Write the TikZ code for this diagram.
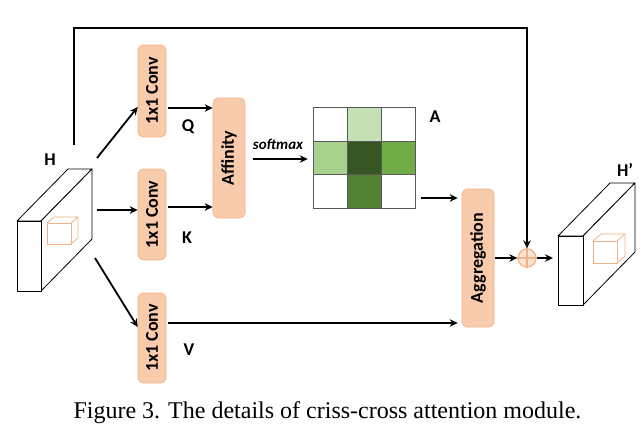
\documentclass[tikz,border=0pt]{standalone}
\usepackage{fontspec}
\setmainfont{Liberation Serif}
\setsansfont{Carlito}
\usetikzlibrary{arrows.meta}
\definecolor{peach}{HTML}{F8CBAD}
\definecolor{peachd}{HTML}{F4B183}
\definecolor{gA}{HTML}{C5E0B4}
\definecolor{gB}{HTML}{A9D18E}
\definecolor{gC}{HTML}{375623}
\definecolor{gD}{HTML}{70AD47}
\definecolor{gE}{HTML}{548235}
\begin{document}
\begin{tikzpicture}[x=1pt,y=-1pt,
  box/.style={draw=peachd, fill=peach, rounded corners=5pt, line width=0.6pt, inner sep=0pt},
  lbl/.style={font=\sffamily\bfseries\fontsize{18}{18}\selectfont, inner sep=0pt},
  arr/.style={line width=1.8pt, -{Stealth[length=8pt,width=7.5pt]}},
  face/.style={draw=black, fill=white, line width=0.8pt, line join=round},
  cube/.style={draw=peachd, line width=0.8pt, line join=round},
  cell/.style={draw=black!65, line width=0.8pt}]
\useasboundingbox (0,0) rectangle (644,437);

% ---- left block H
\draw[face] (17,221) -- (68,169) -- (92,169) -- (41,221) -- cycle;
\draw[face] (41,221) -- (92,169) -- (92,239) -- (41,291) -- cycle;
\draw[face] (17,221) rectangle (41,291);
\draw[cube] (47,223) rectangle (71,244);
\draw[cube] (47,223) -- (54,217) -- (78,217) -- (71,223);
\draw[cube] (71,244) -- (78,238) -- (78,217);
\node[lbl] (hl) at (50,160) {H};

% ---- right block H'
\draw[face] (558,236) -- (610,183) -- (635,183) -- (583,236) -- cycle;
\draw[face] (583,236) -- (635,183) -- (635,252) -- (583,305) -- cycle;
\draw[face] (558,236) rectangle (583,305);
\draw[cube] (593,241) rectangle (617,263);
\draw[cube] (593,241) -- (601,234) -- (625,234) -- (617,241);
\draw[cube] (617,263) -- (625,256) -- (625,234);
\node[lbl] (hr) at (625,170) {H’};
\coordinate (hrin) at (553,258);

% ---- conv boxes
\node[box, minimum width=28pt, minimum height=92pt] (q) at (152,91) {};
\node[lbl, rotate=90] at (q) {1x1 Conv};
\node[box, minimum width=28pt, minimum height=91pt] (k) at (152,214.5) {};
\node[lbl, rotate=90] at (k) {1x1 Conv};
\node[box, minimum width=28pt, minimum height=90pt] (v) at (152,338) {};
\node[lbl, rotate=90] at (v) {1x1 Conv};

\node[box, minimum width=32pt, minimum height=120pt] (aff) at (229,158) {};
\node[lbl, rotate=90] at (aff) {Affinity};
\node[box, minimum width=32pt, minimum height=138pt] (agg) at (478,258) {};
\node[lbl, rotate=90] at (agg) {Aggregation};

% ---- labels
\node[lbl] (lq) at (188,127) {Q};
\node[lbl] (lk) at (187,238) {K};
\node[lbl] (lv) at (189,350) {V};
\node[lbl] (la) at (435,117) {A};
\node[font=\sffamily\bfseries\itshape\fontsize{15}{15}\selectfont, inner sep=0pt] (sm) at (278,144) {softmax};

% ---- matrix
\fill[gA] (347,107) rectangle (381,141);
\fill[gB] (313,141) rectangle (347,174);
\fill[gC] (347,141) rectangle (381,174);
\fill[gD] (381,141) rectangle (415,174);
\fill[gE] (347,174) rectangle (381,208);
\draw[cell] (313,107) rectangle (415,208);
\draw[cell] (347,107) -- (347,208) (381,107) -- (381,208);
\draw[cell] (313,141) -- (415,141) (313,174) -- (415,174);
\node[minimum width=102pt, minimum height=101pt, inner sep=0pt] (mat) at (364,157.5) {};

% ---- plus
\node[circle, draw=peachd, fill=peach!50, line width=1.3pt, minimum size=18pt, inner sep=0pt] (plus) at (527,258) {};
\draw[peachd, line width=1.3pt] (plus.north) -- (plus.south) (plus.west) -- (plus.east);

% ---- coordinates
\coordinate (h1) at (97,158);
\coordinate (h2) at (97,210);
\coordinate (h3) at (95,258);
\coordinate (htop) at (74,145);
\coordinate (qo) at ([yshift=-17pt]q.east);
\coordinate (ko) at ([yshift=7.5pt]k.east);
\coordinate (vo) at ([yshift=15pt]v.east);
\coordinate (ao) at ([yshift=-1pt]aff.east);
\coordinate (mo) at (421,198);

% ---- connectors
\draw[arr] (h1) -- ([yshift=-16pt]q.west);
\draw[arr] (h2) -- (h2 -| k.west);
\draw[arr] (h3) -- ([yshift=11pt]v.west);
\draw[arr, shorten <=2pt] (qo) -- (qo -| aff.west);
\draw[arr, shorten <=2pt] (ko) -- (ko -| aff.west);
\draw[arr, shorten <=8pt, shorten >=5pt] (ao) -- (ao -| mat.west);
\draw[arr, shorten >=4pt] (mo) -- (mo -| agg.west);
\draw[arr, shorten <=2pt, shorten >=4pt] (vo) -- (vo -| agg.west);
\draw[arr, shorten <=1pt] (agg.east) -- (plus.west);
\draw[arr] (plus.east) -- (hrin);
\draw[arr, line join=miter] (htop) -- (74,28) -- (527,28) -- (plus.north);

% ---- caption
\node[font=\fontsize{24}{24}\selectfont, inner sep=0pt] (cap) at (327.5,413) {Figure 3. The details of criss-cross attention module.};
\end{tikzpicture}
\end{document}
